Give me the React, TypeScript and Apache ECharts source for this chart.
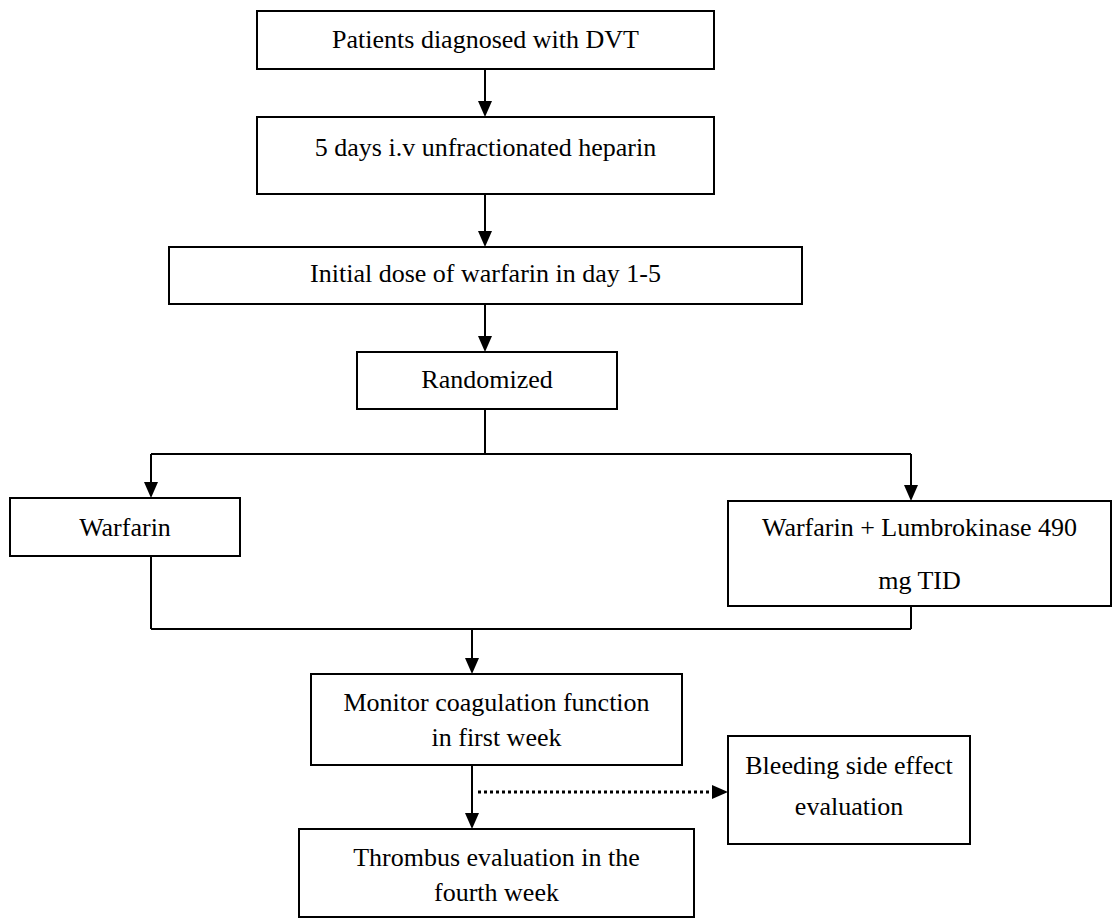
import React, { useEffect, useRef } from "react";
import * as echarts from "echarts";

// ---- content ----
const nodeTexts: string[][] = [
  ["Patients diagnosed with DVT"],
  ["5 days i.v unfractionated heparin"],
  ["Initial dose of warfarin in day 1-5"],
  ["Randomized"],
  ["Warfarin"],
  ["Warfarin + Lumbrokinase 490", "mg TID"],
  ["Monitor coagulation function", "in first week"],
  ["Bleeding side effect", "evaluation"],
  ["Thrombus evaluation in the", "fourth week"],
];

// ---- layout (x, y, w, h) and text line centres ----
const boxRects: number[][] = [
  [257, 11, 457, 58],
  [257, 117, 457, 77],
  [169, 247, 633, 57],
  [357, 352, 260, 57],
  [10, 498, 230, 58],
  [728, 501, 383, 105],
  [311, 674, 371, 91],
  [728, 736, 242, 108],
  [299, 829, 395, 88],
];
const textLineY: number[][] = [
  [39],
  [147],
  [273],
  [379],
  [527],
  [527, 580],
  [702, 737],
  [765, 806],
  [857, 892],
];

// plain connectors [x1,y1,x2,y2]
const plainLines: number[][] = [
  [485, 409, 485, 454],
  [151, 454, 911, 454],
  [151, 556, 151, 629],
  [911, 606, 911, 629],
  [151, 629, 911, 629],
];
// arrows: [x, yStart, yTip]
const downArrows: number[][] = [
  [485, 69, 117],
  [485, 194, 247],
  [485, 304, 352],
  [151, 454, 498],
  [911, 454, 501],
  [472, 629, 674],
  [472, 765, 829],
];
// dotted arrow [x1, y, xTip]
const dottedArrow = [478, 792, 728];

export default function App() {
  const ref = useRef<HTMLDivElement>(null);
  useEffect(() => {
    if (!ref.current) return;
    const chart = echarts.init(ref.current, undefined, { renderer: "svg" });
    const els: any[] = [];
    const stroke = "#000";
    boxRects.forEach((r) => {
      els.push({
        type: "rect",
        shape: { x: r[0], y: r[1], width: r[2], height: r[3] },
        style: { fill: "#fff", stroke, lineWidth: 2 },
        z: 1,
      });
    });
    nodeTexts.forEach((lines, i) => {
      const r = boxRects[i];
      lines.forEach((t, j) => {
        els.push({
          type: "text",
          x: r[0] + r[2] / 2,
          y: textLineY[i][j],
          style: {
            text: t,
            fontFamily: '"Liberation Serif", "Times New Roman", serif',
            fontSize: 26,
            fill: "#000",
            textAlign: "center",
            textVerticalAlign: "middle",
          },
          z: 3,
        });
      });
    });
    plainLines.forEach((l) => {
      els.push({
        type: "line",
        shape: { x1: l[0], y1: l[1], x2: l[2], y2: l[3] },
        style: { stroke, lineWidth: 2 },
        z: 2,
      });
    });
    const aw = 7;
    const ah = 16;
    downArrows.forEach((a) => {
      els.push({
        type: "line",
        shape: { x1: a[0], y1: a[1], x2: a[0], y2: a[2] - ah + 1 },
        style: { stroke, lineWidth: 2 },
        z: 2,
      });
      els.push({
        type: "polygon",
        shape: { points: [[a[0] - aw, a[2] - ah], [a[0] + aw, a[2] - ah], [a[0], a[2]]] },
        style: { fill: stroke },
        z: 2,
      });
    });
    const [dx1, dy, dxt] = dottedArrow;
    els.push({
      type: "line",
      shape: { x1: dx1, y1: dy, x2: dxt - ah, y2: dy },
      style: { stroke, lineWidth: 3, lineDash: [3, 3] },
      z: 2,
    });
    els.push({
      type: "polygon",
      shape: { points: [[dxt - ah, dy - aw], [dxt - ah, dy + aw], [dxt, dy]] },
      style: { fill: stroke },
      z: 2,
    });

    chart.setOption({
      animation: false,
      backgroundColor: "#fff",
      graphic: { elements: els },
    });
    return () => chart.dispose();
  }, []);
  return (
    <div
      ref={ref}
      style={{ position: "fixed", left: 0, top: 0, width: 1113, height: 918 }}
    />
  );
}
